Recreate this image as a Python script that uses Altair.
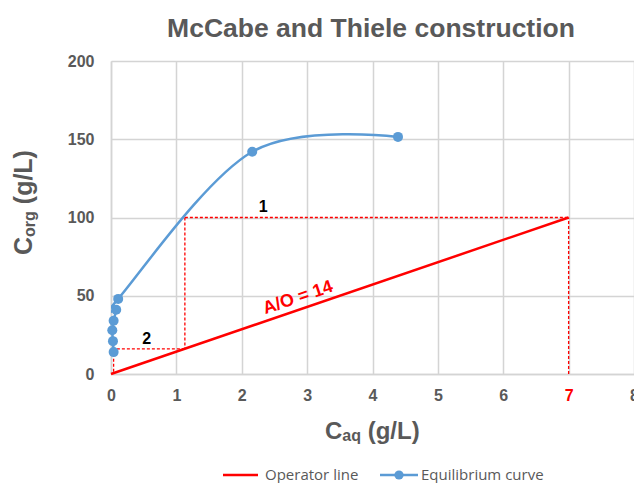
import altair as alt
import pandas as pd

# ---------------- data ----------------
eq_x = [0.04, 0.03, 0.02, 0.04, 0.08, 0.11, 2.16, 4.39]
eq_y = [14, 21, 28, 34, 41, 48, 142, 151.5]
op_x = [0, 7]
op_y = [0, 100]
# McCabe-Thiele stepping (dashed construction lines)
step_x = [1.13, 7, 1.13, 1.13, 0.04]
step_y = [100, 0, 100, 16.1, 16.1]
step_x2 = [7, 7, 1.13, 0.04, 0.04]
step_y2 = [100, 100, 16.1, 16.1, 0]
stage_labels = ["1", "2"]
stage_x = [2.33, 0.545]
stage_y = [106.7, 22.5]
ao_label = ["A/O = 14"]
ao_x = [2.86]
ao_y = [48.6]
x_ticks = [0, 1, 2, 3, 4, 5, 6, 7, 8]
y_ticks = [0, 50, 100, 150, 200]

GRAY = "#595959"
GRID = "#d4d4d4"
RED = "#ff0000"
BLUE = "#5b9bd5"
FONT = "Liberation Sans"

eq_df = pd.DataFrame({"x": eq_x, "y": eq_y, "i": list(range(len(eq_x)))})
op_df = pd.DataFrame({"x": op_x, "y": op_y})
step_df = pd.DataFrame({"x": step_x, "y": step_y, "x2": step_x2, "y2": step_y2})
stage_df = pd.DataFrame({"t": stage_labels, "x": stage_x, "y": stage_y})
ao_df = pd.DataFrame({"t": ao_label, "x": ao_x, "y": ao_y})

xscale = alt.Scale(domain=[0, 8], nice=False, zero=False)
yscale = alt.Scale(domain=[0, 200], nice=False, zero=False)

x_axis = alt.Axis(
    values=x_ticks, title=None, grid=True, gridColor=GRID, gridWidth=1.5,
    domainColor=GRID, domainWidth=1.5, ticks=False, tickSize=0,
    labelFont=FONT, labelFontSize=16, labelFontWeight="bold",
    labelColor={"condition": {"test": "datum.value == 7", "value": RED}, "value": GRAY},
    labelPadding=13, labelFlush=False, labelOverlap=False, labelBound=False,
)
y_axis = alt.Axis(
    values=y_ticks, title=None, grid=True, gridColor=GRID, gridWidth=1.5,
    domainColor=GRID, domainWidth=1.5, ticks=False, tickSize=0,
    labelFont=FONT, labelFontSize=16, labelFontWeight="bold", labelColor=GRAY,
    labelPadding=17, labelFlush=False, labelOverlap=False,
)

X = lambda f="x": alt.X(f"{f}:Q", scale=xscale, axis=x_axis)
Y = lambda f="y": alt.Y(f"{f}:Q", scale=yscale, axis=y_axis)

steps = alt.Chart(step_df).mark_rule(color=RED, strokeWidth=1.3, strokeDash=[3, 2]).encode(
    x=X(), y=Y(), x2="x2:Q", y2="y2:Q"
)
op_line = alt.Chart(op_df).mark_line(color=RED, strokeWidth=2.5).encode(x=X(), y=Y())
eq_line = alt.Chart(eq_df).mark_line(
    color=BLUE, strokeWidth=2.5, interpolate="cardinal", tension=0, clip=True
).encode(x=X(), y=Y(), order="i:Q")
eq_pts = alt.Chart(eq_df).mark_point(filled=True, color=BLUE, size=100, opacity=1).encode(x=X(), y=Y())
stages = alt.Chart(stage_df).mark_text(
    font=FONT, fontSize=16, fontWeight="bold", color="black", align="center", baseline="middle"
).encode(x=X(), y=Y(), text="t:N")
ao_text = alt.Chart(ao_df).mark_text(
    font=FONT, fontSize=18, fontWeight="bold", color=RED, align="center", baseline="middle", angle=341.3
).encode(x=X(), y=Y(), text="t:N")


def label(text, x, y, size, weight="bold", color=GRAY, align="left", angle=0,
          baseline="alphabetic", font=FONT):
    return alt.Chart(pd.DataFrame({"t": [text]})).mark_text(
        align=align, baseline=baseline, fontSize=size, fontWeight=weight,
        color=color, angle=angle, font=font
    ).encode(text="t:N", x=alt.value(x), y=alt.value(y))


# chart title
title = label("McCabe and Thiele construction", 260, -23.7, 26.5, align="center")
# x-axis title  C_aq (g/L)
xt1 = label("C", 214, 377.5, 24)
xt2 = label("aq", 231.3, 379.5, 16)
xt3 = label("(g/L)", 256.7, 377.5, 24)
# y-axis title  C_org (g/L)  (rotated)
yt1 = label("C", -79.3, 194, 25, angle=270)
yt2 = label("org", -76.3, 176, 16, angle=270)
yt3 = label("(g/L)", -79.3, 143.2, 25, angle=270)

# legend
LY = 414
leg_red = alt.Chart(pd.DataFrame({"a": [0]})).mark_rule(color=RED, strokeWidth=2.5).encode(
    x=alt.value(112), x2=alt.value(147), y=alt.value(LY))
leg_red_t = label("Operator line", 154, LY, 15, weight="normal", baseline="middle", font="Open Sans")
leg_blue = alt.Chart(pd.DataFrame({"a": [0]})).mark_rule(color=BLUE, strokeWidth=2.5).encode(
    x=alt.value(269), x2=alt.value(307), y=alt.value(LY))
leg_dot = alt.Chart(pd.DataFrame({"a": [0]})).mark_point(filled=True, color=BLUE, size=85, opacity=1).encode(
    x=alt.value(288), y=alt.value(LY))
leg_blue_t = label("Equilibrium curve", 310, LY, 15, weight="normal", baseline="middle", font="Open Sans")

chart = alt.layer(
    steps, op_line, eq_line, eq_pts, stages, ao_text,
    title, xt1, xt2, xt3, yt1, yt2, yt3,
    leg_red, leg_red_t, leg_blue, leg_dot, leg_blue_t,
).properties(
    width=523, height=313,
    autosize=alt.AutoSizeParams(type="none"),
    padding={"left": 103, "top": 53, "right": 0, "bottom": 109},
    background="white",
).configure_view(stroke=None)

chart.save("out.html", embed_options={"renderer": "svg", "actions": False})
